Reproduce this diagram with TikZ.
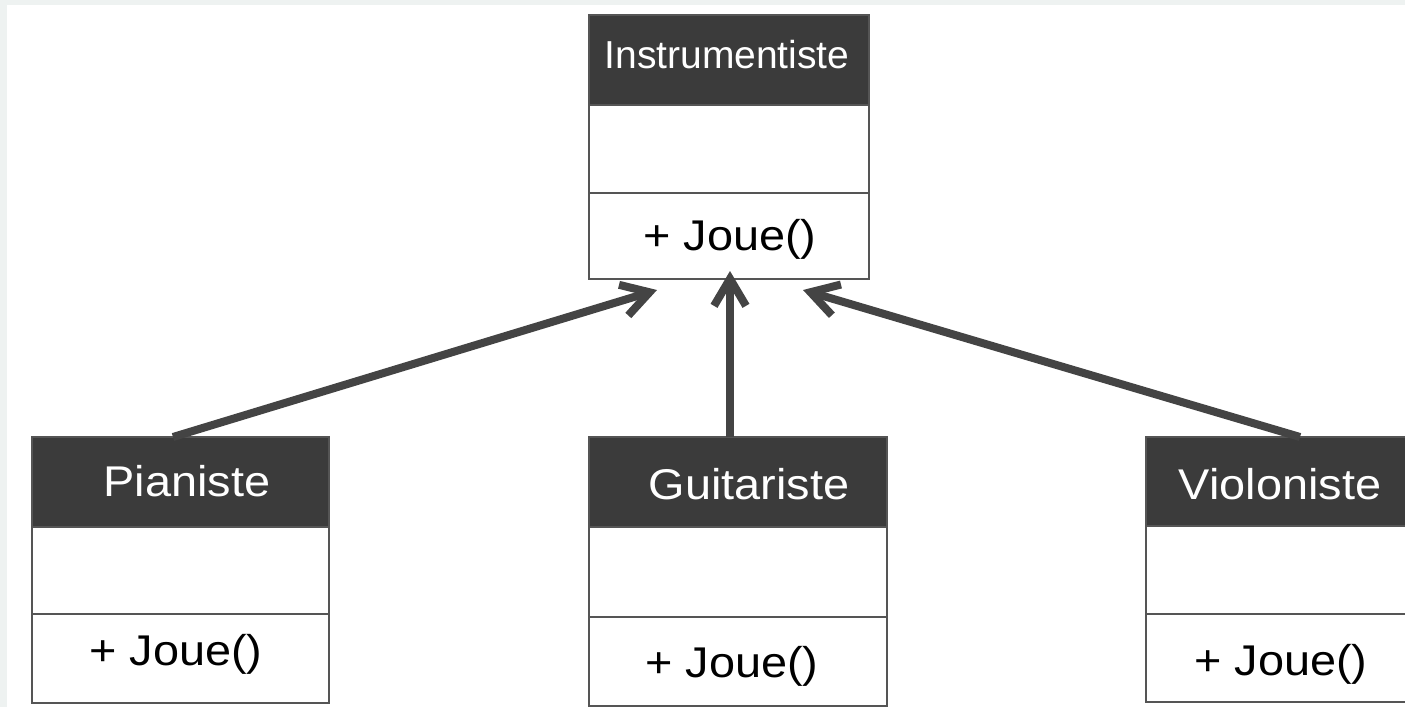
\documentclass[tikz,border=0pt]{standalone}
\usepackage{fontspec}
\setmainfont{Liberation Sans}
\usetikzlibrary{arrows.meta,calc}

\definecolor{pagebg}{HTML}{EEF2F1}
\definecolor{headfill}{HTML}{3B3B3B}
\definecolor{boxline}{HTML}{555555}
\definecolor{arrowcol}{HTML}{444444}

\tikzset{
  header/.style={draw=boxline, fill=headfill, line width=2pt, inner sep=0pt, outer sep=0pt},
  compartment/.style={draw=boxline, fill=white, line width=1.6pt, inner sep=0pt, outer sep=0pt},
  headtext/.style={text=white, anchor=base, inner sep=0pt, font=\fontsize{43}{50}\selectfont, xscale=1.09},
  roottext/.style={text=white, anchor=base, inner sep=0pt, font=\fontsize{39}{46}\selectfont},
  methtext/.style={text=black, anchor=base, inner sep=0pt, font=\fontsize{43}{50}\selectfont, xscale=1.09},
  inherit/.style={draw=arrowcol, line width=8pt,
    -{Straight Barb[length=27pt, width=32pt, line width=8pt]}},
}

\begin{document}
\begin{tikzpicture}[x=1pt, y=-1pt]
  \useasboundingbox (0,0) rectangle (1405,707);
  \clip (0,0) rectangle (1405,707);
  % page background with its thin light frame
  \fill[pagebg] (0,0) rectangle (1405,707);
  \fill[white] (7,5) rectangle (1405,707);

  % base class
  \node[header, minimum width=280pt, minimum height=90pt] (instH) at (729,60) {};
  \node[compartment, minimum width=280pt, minimum height=88pt] (instA) at (729,149) {};
  \node[compartment, minimum width=280pt, minimum height=86pt] (instM) at (729,236) {};
  \node[roottext] (instT) at (727,68) {Instrumentiste};
  \node[methtext] (instJ) at (730,250) {+ Joue()};

  % Pianiste
  \node[header, minimum width=297pt, minimum height=90pt] (pianH) at (180.5,482) {};
  \node[compartment, minimum width=297pt, minimum height=87pt] (pianA) at (180.5,570.5) {};
  \node[compartment, minimum width=297pt, minimum height=89pt] (pianM) at (180.5,658.5) {};
  \node[headtext] (pianT) at (187,496) {Pianiste};
  \node[methtext] (pianJ) at (176,665) {+ Joue()};

  % Guitariste
  \node[header, minimum width=298pt, minimum height=90pt] (guitH) at (738,482) {};
  \node[compartment, minimum width=298pt, minimum height=90pt] (guitA) at (738,572) {};
  \node[compartment, minimum width=298pt, minimum height=89pt] (guitM) at (738,661.5) {};
  \node[headtext] (guitT) at (749,499) {Guitariste};
  \node[methtext] (guitJ) at (732,677) {+ Joue()};

  % Violoniste
  \node[header, minimum width=297pt, minimum height=89pt] (violH) at (1294.5,481.5) {};
  \node[compartment, minimum width=297pt, minimum height=88pt] (violA) at (1294.5,570) {};
  \node[compartment, minimum width=297pt, minimum height=88pt] (violM) at (1294.5,658) {};
  \node[headtext] (violT) at (1280,499) {Violoniste};
  \node[methtext] (violJ) at (1281,675) {+ Joue()};

  % arrow tips below the base class
  \coordinate (tipL) at ($(instM.south)+(-72,11)$);
  \coordinate (tipC) at ($(instM.south)+(1,-8)$);
  \coordinate (tipR) at ($(instM.south)+(74,11)$);

  % inheritance arrows
  \draw[inherit] ($(pianH.north)+(-7.5,0)$) -- (tipL);
  \draw[inherit] ($(guitH.north)+(-8,0)$) -- (tipC);
  \draw[inherit] ($(violH.north)+(5.5,0)$) -- (tipR);
\end{tikzpicture}
\end{document}
